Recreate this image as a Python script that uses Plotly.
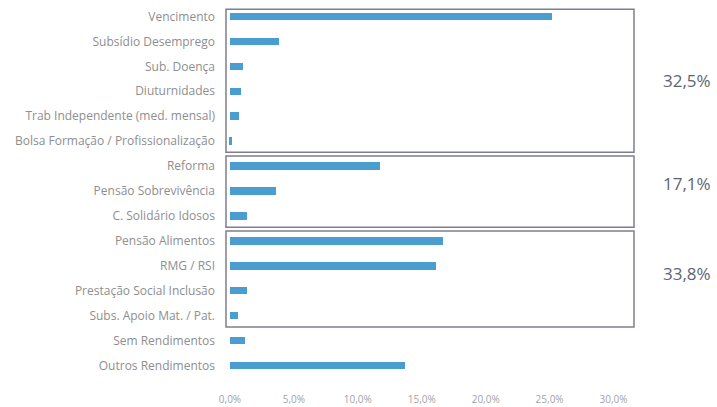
import plotly.graph_objects as go

categories = [
    "Vencimento",
    "Subsídio Desemprego",
    "Sub. Doença",
    "Diuturnidades",
    "Trab Independente (med. mensal)",
    "Bolsa Formação / Profissionalização",
    "Reforma",
    "Pensão Sobrevivência",
    "C. Solidário Idosos",
    "Pensão Alimentos",
    "RMG / RSI",
    "Prestação Social Inclusão",
    "Subs. Apoio Mat. / Pat.",
    "Sem Rendimentos",
    "Outros Rendimentos",
]
values = [25.2, 3.8, 1.0, 0.9, 0.7, 0.15, 11.7, 3.6, 1.3, 16.7, 16.1, 1.3, 0.6, 1.2, 13.7]

x_ticks = [0, 5, 10, 15, 20, 25, 30]
x_tick_labels = ["0,0%", "5,0%", "10,0%", "15,0%", "20,0%", "25,0%", "30,0%"]

group_labels = ["32,5%", "17,1%", "33,8%"]
group_first = [0, 6, 9]
group_last = [5, 8, 12]
label_shift = [0, 8, 5]

fig = go.Figure()
fig.add_trace(go.Bar(
    x=values,
    y=list(range(len(categories))),
    orientation="h",
    width=0.3,
    marker=dict(color="#4a9dcf", line=dict(width=0)),
    hoverinfo="skip",
))

shapes = []
annotations = []
for lab, a, b, sh in zip(group_labels, group_first, group_last, label_shift):
    y0 = a - 0.29 if a == 0 else a - 0.4
    y1 = b + 0.45
    shapes.append(dict(
        type="rect", xref="paper", yref="y", x0=0.0, x1=1.0, y0=y0, y1=y1,
        line=dict(color="#7d7f8c", width=1.5), fillcolor="rgba(0,0,0,0)",
    ))
    annotations.append(dict(
        xref="paper", yref="y", x=1.13, y=(y0 + y1) / 2, text=lab,
        showarrow=False, xanchor="center", yanchor="middle", yshift=sh,
        font=dict(family="Open Sans", size=17, color="#5d6573"),
    ))

fig.update_layout(
    width=717, height=407,
    margin=dict(l=226, r=83, t=4, b=29),
    paper_bgcolor="white", plot_bgcolor="white",
    showlegend=False,
    shapes=shapes,
    annotations=annotations,
    bargap=0,
    xaxis=dict(
        range=[-0.31, 31.6],
        tickvals=x_ticks,
        ticktext=x_tick_labels,
        showgrid=False, zeroline=False, showline=False,
        tickfont=dict(family="Open Sans", size=10, color="#a3a3a3"),
        ticklabelstandoff=14,
        automargin=False,
    ),
    yaxis=dict(
        range=[14.5, -0.5],
        tickvals=list(range(len(categories))),
        ticktext=categories,
        showgrid=False, zeroline=False, showline=False,
        tickfont=dict(family="Open Sans", size=12, color="#8e8e8e"),
        ticklabelstandoff=10,
        automargin=False,
    ),
)

fig.write_html("out.html")
